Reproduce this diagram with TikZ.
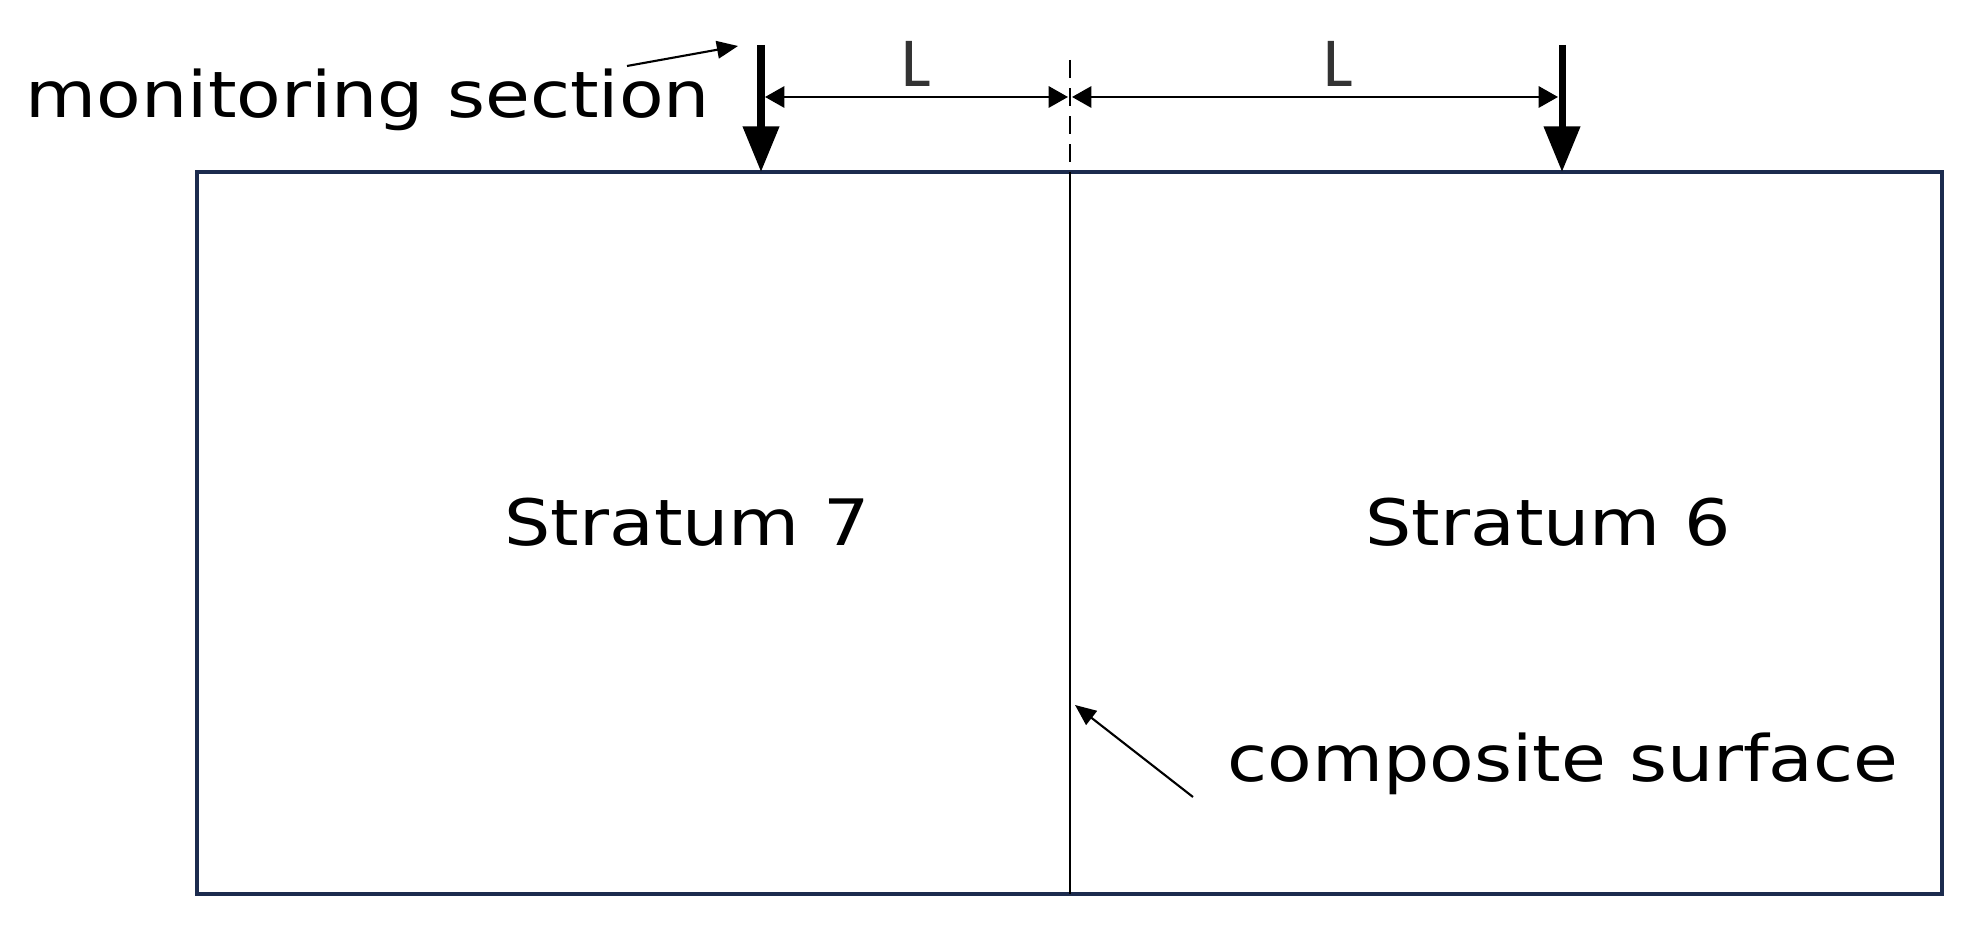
\documentclass[tikz,border=0pt]{standalone}
\usepackage{fontspec}
\setmainfont{Carlito}
\newfontfamily\lblfont[FakeStretch=1.14]{DejaVu Sans}
\usetikzlibrary{arrows.meta}
\definecolor{navy}{HTML}{1C2B4E}
\definecolor{lblgray}{HTML}{333333}
\tikzset{
  bigarrow/.style={line width=2pt,-{Triangle[length=13pt,width=10pt]}},
  dimarrow/.style={line width=0.8pt,{Triangle[length=5.5pt,width=6pt]}-{Triangle[length=5.5pt,width=6pt]}},
  ptr/.style={line width=0.6pt,-{Triangle[length=6pt,width=5pt]}},
  lbl/.style={font=\lblfont\fontsize{18.2}{22}\selectfont, inner sep=0pt},
  dimlbl/.style={font=\fontsize{20}{24}\selectfont, text=lblgray, inner sep=0pt}
}
\begin{document}
\begin{tikzpicture}[x=0.01cm,y=-0.01cm]
\useasboundingbox (0,0) rectangle (1967,925);
% box
\draw[navy, line width=1.1pt] (197,172) rectangle (1942,894);
\coordinate (midtop) at (1070,172);
\coordinate (midbot) at (1070,894);
\coordinate (dashtop) at (1070,60);
\draw[black, line width=0.7pt] (midtop) -- (midbot);
\draw[black, line width=0.6pt, dash pattern=on 5pt off 3pt] (dashtop) -- (midtop);
% monitoring section arrows
\coordinate (m1s) at (761,45);
\coordinate (m1e) at (761,172);
\coordinate (m2s) at (1562,45);
\coordinate (m2e) at (1562,172);
\draw[bigarrow] (m1s) -- (m1e);
\draw[bigarrow] (m2s) -- (m2e);
% dimension lines
\coordinate (d1a) at (765,97);
\coordinate (d1b) at (1068,97);
\coordinate (d2a) at (1072,97);
\coordinate (d2b) at (1558,97);
\draw[dimarrow] (d1a) -- (d1b);
\draw[dimarrow] (d2a) -- (d2b);
\node[dimlbl] (L1) at (916,64) {L};
\node[dimlbl] (L2) at (1338,64) {L};
% labels
\node[lbl] (mon) at (368,100) {monitoring section};
\coordinate (monptr) at (738,46);
\draw[ptr] (627,66) -- (monptr);
\node[lbl] (s7) at (687,522) {Stratum 7};
\node[lbl] (s6) at (1548,522) {Stratum 6};
\node[lbl] (comp) at (1563,764) {composite surface};
\coordinate (comptip) at (1075,705);
\draw[ptr] (1193,797) -- (comptip);
\end{tikzpicture}
\end{document}
